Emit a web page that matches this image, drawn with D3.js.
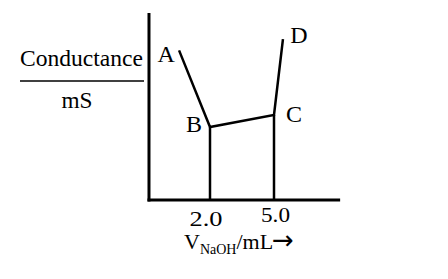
<!DOCTYPE html>
<html>
<head>
<meta charset="utf-8">
<script src="https://cdn.jsdelivr.net/npm/d3@7"></script>
<style>
  html, body { margin: 0; padding: 0; background: #fff; }
  svg { display: block; font-family: "Liberation Serif", "Times New Roman", serif; }
</style>
</head>
<body>
<svg id="chart" width="448" height="279"></svg>
<script>
// Data (schematic conductometric titration)
const pointLabels = ["A", "B", "C", "D"];
const volumes = [0.55, 2.0, 5.0, 5.42];          // V NaOH / mL
const conductance = [8.0, 3.9, 4.55, 8.6];       // arbitrary units (mS)
const tickValues = [2.0, 5.0];
const tickLabels = ["2.0", "5.0"];
const xExtent = [-0.86, 8.1];
const yExtent = [0, 10];

const svg = d3.select("#chart");
const x = d3.scaleLinear().domain([2, 5]).range([210, 274]);
const y = d3.scaleLinear().domain(yExtent).range([200, 13]);

const pts = volumes.map((v, i) => ({ v, c: conductance[i], label: pointLabels[i] }));

// axes
svg.append("line")
  .attr("x1", x(xExtent[0])).attr("x2", x(xExtent[0]))
  .attr("y1", y(yExtent[1])).attr("y2", y(0) + 1.5)
  .attr("stroke", "#000").attr("stroke-width", 3);
svg.append("line")
  .attr("x1", x(xExtent[0]) - 1.5).attr("x2", x(xExtent[1]))
  .attr("y1", y(0)).attr("y2", y(0))
  .attr("stroke", "#000").attr("stroke-width", 3);

// drop lines at equivalence points
svg.selectAll("line.drop")
  .data(pts.slice(1, 3))
  .enter().append("line")
  .attr("class", "drop")
  .attr("x1", d => x(d.v)).attr("x2", d => x(d.v))
  .attr("y1", d => y(d.c)).attr("y2", y(0))
  .attr("stroke", "#000").attr("stroke-width", 2.5);

// curve
const line = d3.line().x(d => x(d.v)).y(d => y(d.c));
svg.append("path")
  .datum(pts)
  .attr("d", line)
  .attr("fill", "none")
  .attr("stroke", "#000")
  .attr("stroke-width", 2.5)
  .attr("stroke-linejoin", "miter");

// point labels
const labelOffsets = { A: [-13, 12], B: [-16, 5], C: [20, 7], D: [16, 4] };
svg.selectAll("text.pt")
  .data(pts)
  .enter().append("text")
  .attr("class", "pt")
  .attr("x", d => x(d.v) + labelOffsets[d.label][0])
  .attr("y", d => y(d.c) + labelOffsets[d.label][1])
  .attr("text-anchor", "middle")
  .attr("font-size", 24)
  .text(d => d.label);

// tick labels
const tickY = [226, 222];
svg.selectAll("text.tick")
  .data(tickValues)
  .enter().append("text")
  .attr("class", "tick")
  .attr("x", (d, i) => x(d) + (i === 0 ? -4 : 1.5))
  .attr("y", (d, i) => tickY[i])
  .attr("text-anchor", "middle")
  .attr("font-size", 21)
  .attr("textLength", (d, i) => i === 0 ? 33 : 29)
  .attr("lengthAdjust", "spacingAndGlyphs")
  .text((d, i) => tickLabels[i]);

// y label as fraction
svg.append("text")
  .attr("x", 81.5).attr("y", 66)
  .attr("text-anchor", "middle")
  .attr("font-size", 24)
  .attr("textLength", 123)
  .attr("lengthAdjust", "spacingAndGlyphs")
  .text("Conductance");
svg.append("line")
  .attr("x1", 20).attr("x2", 144)
  .attr("y1", 81).attr("y2", 81)
  .attr("stroke", "#000").attr("stroke-width", 1.5);
svg.append("text")
  .attr("x", 77).attr("y", 108)
  .attr("text-anchor", "middle")
  .attr("font-size", 24)
  .attr("textLength", 31)
  .attr("lengthAdjust", "spacingAndGlyphs")
  .text("mS");

// x label
const xl = svg.append("text")
  .attr("x", 184).attr("y", 249)
  .attr("font-size", 22);
xl.append("tspan").text("V");
xl.append("tspan").attr("font-size", 14).attr("dy", 5).text("NaOH");
xl.append("tspan").attr("dy", -5).text("/mL");
xl.append("tspan")
  .attr("font-family", "DejaVu Sans")
  .attr("font-size", 26)
  .attr("dx", -1)
  .text("\u2192");
</script>
</body>
</html>
